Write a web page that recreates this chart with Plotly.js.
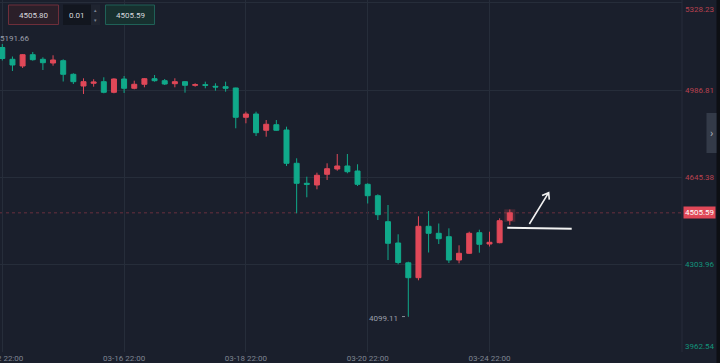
<!DOCTYPE html>
<html>
<head>
<meta charset="utf-8">
<script src="https://cdn.plot.ly/plotly-3.0.1.min.js"></script>
<style>
html,body{margin:0;padding:0;background:#1a1f2c;}
#chart{width:720px;height:363px;}
</style>
</head>
<body>
<div id="chart"></div>
<script>
// ---- data (4-hour candles) ----
const openP  = [5153.3,5107.1,5080.9,5125.1,5107.1,5092.6,5101.6,5048.3,5002.5,5013.1,
                5019.4,4977.8,5029.9,4993.5,5009.2,5031.1,5023.3,5011.5,5019.4,5005.2,
                5007.6,5001.3,4999.8,4994.7,4879.9,4892.8,4829.0,4850.9,4830.1,4699.7,
                4621.3,4614.7,4656.6,4677.3,4689.1,4669.5,4617.4,4572.7,4470.9,4387.4,
                4309.8,4251.5,4452.9,4425.4,4412.1,4320.8,4347.1,4427.8,4383.5,4388.6,
                4476.4];
const highP  = [5167.0,5118.1,5127.9,5135.7,5114.9,5122.8,5107.1,5052.3,5032.7,5028.8,
                5036.6,5032.7,5041.7,5023.3,5033.8,5045.6,5029.9,5032.7,5022.1,5013.1,
                5019.4,5013.1,5019.4,4995.8,4901.8,4901.8,4869.3,4869.3,4843.1,4719.3,
                4647.2,4662.9,4699.7,4736.1,4736.1,4695.8,4621.3,4578.2,4536.3,4421.5,
                4314.2,4492.0,4512.8,4463.8,4445.0,4378.4,4431.7,4439.5,4431.7,4484.2,
                4518.7];
const lowP   = [5102.4,5061.3,5073.0,5101.6,5065.2,5082.0,5020.1,5010.3,4971.2,4999.8,
                4973.9,4973.9,4975.1,4989.6,4997.4,5019.4,5006.4,4997.4,4976.3,4999.8,
                4993.5,4984.1,4980.2,4836.8,4856.4,4806.6,4803.9,4827.0,4689.1,4503.8,
                4566.5,4597.8,4634.3,4670.7,4660.5,4610.7,4542.2,4477.5,4320.8,4303.96,
                4099.11,4241.3,4350.2,4383.5,4309.1,4307.9,4344.4,4349.4,4373.7,4386.3,
                4458.0];
const closeP = [5110.2,5084.8,5125.1,5105.5,5093.8,5104.4,5048.3,5019.4,5019.4,5018.2,
                4977.8,5029.9,4993.5,5009.2,5031.1,5023.3,5010.3,5019.4,5005.2,5007.6,
                5005.2,4998.6,4993.5,4879.9,4892.8,4819.6,4852.5,4829.0,4699.7,4621.3,
                4617.4,4652.7,4678.5,4689.1,4666.8,4617.4,4572.7,4498.3,4386.3,4311.1,
                4251.5,4452.9,4425.4,4404.3,4320.8,4347.1,4425.4,4382.3,4390.2,4474.8,
                4505.59];
const tickIndex  = [0, 12, 24, 36, 48];
const tickLabels = ['03-12 22:00','03-16 22:00','03-18 22:00','03-20 22:00','03-24 22:00'];
const priceLevels = [5328.23, 4986.81, 4645.38, 4303.96, 3962.54];
const lastPrice = 4505.59;
const highMark = 5191.66;
const lowMark = 4099.11;
const lowMarkIndex = 40;
const bidText = '4505.80';
const stepText = '0.01';
const askText = '4505.59';

// ---- styles ----
const BG = '#1a1f2c';
const GRID = '#262d3a';
const UP = '#e04858';
const DOWN = '#10a98a';
const TXT = '#9a9fab';
const FONT = 'Roboto, "Noto Sans", "DejaVu Sans", sans-serif';

const idx = [];
for (let i = 0; i < openP.length; i++) idx.push(i);
const lastI = idx.length - 1;

const trace = {
  type: 'candlestick',
  x: idx, open: openP, high: highP, low: lowP, close: closeP,
  increasing: {line: {color: UP, width: 1}, fillcolor: UP},
  decreasing: {line: {color: DOWN, width: 1}, fillcolor: DOWN},
  whiskerwidth: 0,
  hoverinfo: 'skip',
  showlegend: false
};

const annotations = [];
priceLevels.forEach((v, k) => {
  const above = v > lastPrice;
  let yanchor = 'middle', yshift = 0;
  if (k === 0) { yanchor = 'top'; yshift = 0; }
  if (k === priceLevels.length - 1) { yanchor = 'bottom'; yshift = -1.5; }
  annotations.push({
    xref: 'paper', x: 1, xanchor: 'left', xshift: 1,
    yref: 'y', y: v, yanchor: yanchor, yshift: yshift,
    text: v.toFixed(2), showarrow: false,
    font: {family: FONT, size: 8, color: above ? '#b8414f' : '#13937a'}
  });
});
// current price tag
annotations.push({
  xref: 'paper', x: 1, xanchor: 'left', xshift: 1,
  yref: 'y', y: lastPrice, yanchor: 'middle',
  text: lastPrice.toFixed(2), showarrow: false,
  bgcolor: UP, borderpad: 1,
  font: {family: FONT, size: 8, color: '#ffffff'}
});
// high / low markers
annotations.push({
  xref: 'paper', x: 0, xanchor: 'left', xshift: -2,
  yref: 'y', y: highMark, yanchor: 'middle', yshift: -1,
  text: highMark.toFixed(2), showarrow: false,
  font: {family: FONT, size: 8, color: TXT}
});
annotations.push({
  xref: 'x', x: lowMarkIndex, xanchor: 'right', xshift: -8,
  yref: 'y', y: lowMark, yanchor: 'middle', yshift: -2,
  text: lowMark.toFixed(2), showarrow: false,
  font: {family: FONT, size: 8, color: TXT}
});
// toolbar texts
annotations.push({xref:'paper', x:0, xanchor:'center', xshift:33.7, yref:'paper', y:1, yanchor:'middle', yshift:-15,
  text: bidText, showarrow:false, font:{family:FONT, size:8, color:'#d6d8de'}});
annotations.push({xref:'paper', x:0, xanchor:'left', xshift:66.5, yref:'paper', y:1, yanchor:'middle', yshift:-15,
  text: stepText, showarrow:false, font:{family:FONT, size:8, color:'#d6d8de'}});
annotations.push({xref:'paper', x:0, xanchor:'center', xshift:130, yref:'paper', y:1, yanchor:'middle', yshift:-15,
  text: askText, showarrow:false, font:{family:FONT, size:8, color:'#d6d8de'}});
annotations.push({xref:'paper', x:0, xanchor:'center', xshift:95.8, yref:'paper', y:1, yanchor:'middle', yshift:-10,
  text: '▴', showarrow:false, font:{family:FONT, size:5, color:'#7d8390'}});
annotations.push({xref:'paper', x:0, xanchor:'center', xshift:95.8, yref:'paper', y:1, yanchor:'middle', yshift:-19.5,
  text: '▾', showarrow:false, font:{family:FONT, size:5, color:'#7d8390'}});
// side handle chevron
annotations.push({xref:'paper', x:1, xanchor:'center', xshift:29.5, yref:'paper', y:1, yanchor:'middle', yshift:-133,
  text: '›', showarrow:false, font:{family:FONT, size:11, color:'#aeb3bd'}});

function pxRect(x0, x1, y0, y1, fill, line) {
  return {type:'rect', xref:'paper', yref:'paper', xsizemode:'pixel', ysizemode:'pixel',
    xanchor:0, yanchor:1, x0:x0, x1:x1, y0:-y0, y1:-y1,
    fillcolor: fill, line: line ? {color: line, width: 1} : {width: 0}, layer:'above'};
}

const shapes = [
  // plot right border
  {type:'line', xref:'paper', yref:'paper', x0:1, x1:1, y0:0, y1:1, line:{color:GRID, width:1}, layer:'below'},
  // dotted last price line
  {type:'line', xref:'paper', yref:'y', x0:0, x1:1, y0:lastPrice, y1:lastPrice,
   line:{color:'rgba(170,62,78,0.55)', width:1, dash:'dot'}, layer:'below'},
  // glow on the live candle
  {type:'rect', xref:'x', yref:'y', xsizemode:'pixel', ysizemode:'pixel', xanchor:lastI, yanchor:closeP[lastI],
   x0:-5.5, x1:5.5, y0:-9, y1:3.5, fillcolor:'rgba(224,72,88,0.22)', line:{width:0}, layer:'below'},
  // low leader
  {type:'line', xref:'x', yref:'y', x0:lowMarkIndex - 0.62, x1:lowMarkIndex, y0:lowMark, y1:lowMark,
   line:{color:'#8a8f9a', width:1, dash:'dot'}},
  // toolbar boxes
  pxRect(8.5, 58.5, 5, 24.5, '#2b1f29', '#6e2e3a'),
  pxRect(63, 91, 4.5, 25, '#12161f', null),
  pxRect(91, 100, 4.5, 25, '#1f2430', null),
  pxRect(105.5, 154.5, 5, 24.5, '#17302f', '#1f6157'),
  // right dark strip and handle
  {type:'rect', xref:'paper', yref:'paper', xsizemode:'pixel', xanchor:1, x0:34.5, x1:39, y0:-0.05, y1:1.05,
   fillcolor:'#0d0f14', line:{width:0}, layer:'above'},
  {type:'rect', xref:'paper', yref:'paper', xsizemode:'pixel', ysizemode:'pixel', xanchor:1, yanchor:1,
   x0:24.5, x1:34.5, y0:-113, y1:-153, fillcolor:'#333a48', line:{width:0}, layer:'above'},
  // hand-drawn horizontal line
  {type:'line', xref:'x', yref:'y', x0:49.75, x1:56.1, y0:4447.3, y1:4443.4,
   line:{color:'#f2f2f2', width:2}},
  // hand-drawn arrow (anchored at its head)
  {type:'path', xref:'x', yref:'y', xsizemode:'pixel', ysizemode:'pixel', xanchor:53.83, yanchor:4584.5,
   path:'M -19.3,-31.3 L 0,0 M 0.6,-7 L 0,0 L -6.6,-2.8', line:{color:'#f2f2f2', width:1.6}}
];

const layout = {
  width: 720, height: 363,
  margin: {l: 0, r: 38, t: 0, b: 11, pad: 0},
  paper_bgcolor: BG, plot_bgcolor: BG,
  font: {family: FONT, size: 8, color: TXT},
  showlegend: false,
  dragmode: false,
  xaxis: {
    range: [-0.227, 66.966], tickvals: tickIndex, ticktext: tickLabels,
    showgrid: true, gridcolor: GRID, gridwidth: 1, zeroline: false, showline: false,
    ticks: '', tickfont: {family: FONT, size: 8, color: '#7f8592'},
    ticklabeloverflow: 'allow',
    rangeslider: {visible: false}, fixedrange: true
  },
  yaxis: {
    range: [3960.4, 5339.4], tickvals: priceLevels, showticklabels: false,
    showgrid: true, gridcolor: GRID, gridwidth: 1, zeroline: false, showline: false,
    ticks: '', fixedrange: true
  },
  annotations: annotations,
  shapes: shapes
};

Plotly.newPlot('chart', [trace], layout, {displayModeBar: false, staticPlot: true});
</script>
</body>
</html>
